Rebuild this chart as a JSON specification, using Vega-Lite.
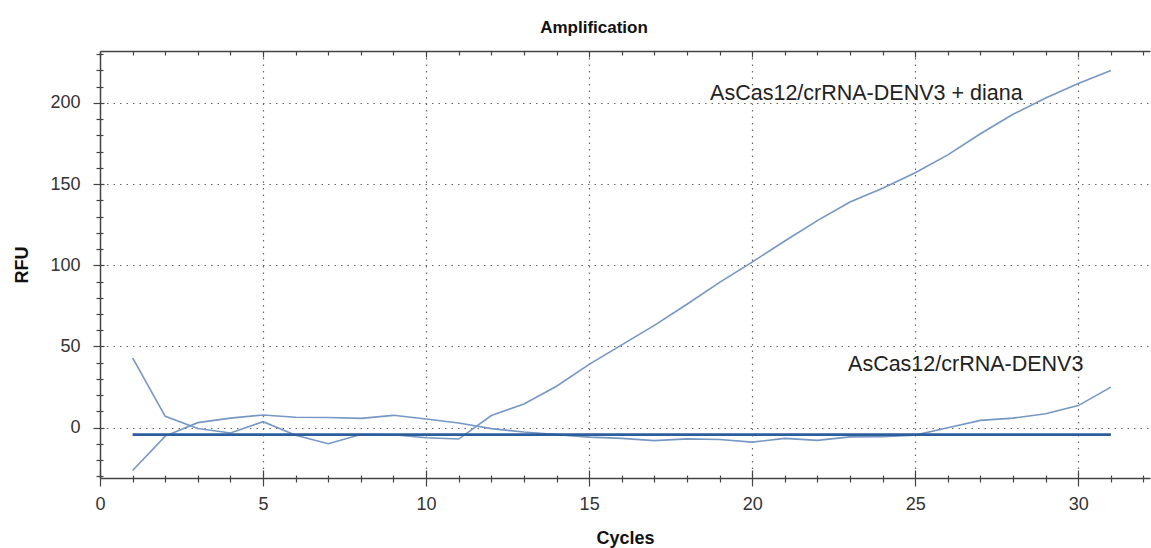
{
  "$schema": "https://vega.github.io/schema/vega-lite/v6.json",
  "width": 1050,
  "height": 427,
  "autosize": "none",
  "padding": {"left": 100, "top": 51, "right": 1, "bottom": 70},
  "background": "white",
  "title": {
    "text": "Amplification",
    "font": "Liberation Sans",
    "fontSize": 17,
    "fontWeight": "bold",
    "color": "#111111",
    "anchor": "middle",
    "dx": -31,
    "offset": 8
  },
  "datasets": {
    "curves": [
      {"cycle": 1, "rfu": 43, "series": "AsCas12/crRNA-DENV3 + diana"},
      {"cycle": 2, "rfu": 7, "series": "AsCas12/crRNA-DENV3 + diana"},
      {"cycle": 3, "rfu": -0.5, "series": "AsCas12/crRNA-DENV3 + diana"},
      {"cycle": 4, "rfu": -3.3, "series": "AsCas12/crRNA-DENV3 + diana"},
      {"cycle": 5, "rfu": 3.7, "series": "AsCas12/crRNA-DENV3 + diana"},
      {"cycle": 6, "rfu": -4.7, "series": "AsCas12/crRNA-DENV3 + diana"},
      {"cycle": 7, "rfu": -9.9, "series": "AsCas12/crRNA-DENV3 + diana"},
      {"cycle": 8, "rfu": -4.2, "series": "AsCas12/crRNA-DENV3 + diana"},
      {"cycle": 9, "rfu": -4.4, "series": "AsCas12/crRNA-DENV3 + diana"},
      {"cycle": 10, "rfu": -6.2, "series": "AsCas12/crRNA-DENV3 + diana"},
      {"cycle": 11, "rfu": -7, "series": "AsCas12/crRNA-DENV3 + diana"},
      {"cycle": 12, "rfu": 7.5, "series": "AsCas12/crRNA-DENV3 + diana"},
      {"cycle": 13, "rfu": 14.6, "series": "AsCas12/crRNA-DENV3 + diana"},
      {"cycle": 14, "rfu": 25.5, "series": "AsCas12/crRNA-DENV3 + diana"},
      {"cycle": 15, "rfu": 39, "series": "AsCas12/crRNA-DENV3 + diana"},
      {"cycle": 16, "rfu": 51, "series": "AsCas12/crRNA-DENV3 + diana"},
      {"cycle": 17, "rfu": 63, "series": "AsCas12/crRNA-DENV3 + diana"},
      {"cycle": 18, "rfu": 76, "series": "AsCas12/crRNA-DENV3 + diana"},
      {"cycle": 19, "rfu": 89.5, "series": "AsCas12/crRNA-DENV3 + diana"},
      {"cycle": 20, "rfu": 102, "series": "AsCas12/crRNA-DENV3 + diana"},
      {"cycle": 21, "rfu": 115, "series": "AsCas12/crRNA-DENV3 + diana"},
      {"cycle": 22, "rfu": 127.5, "series": "AsCas12/crRNA-DENV3 + diana"},
      {"cycle": 23, "rfu": 139, "series": "AsCas12/crRNA-DENV3 + diana"},
      {"cycle": 24, "rfu": 147.5, "series": "AsCas12/crRNA-DENV3 + diana"},
      {"cycle": 25, "rfu": 157, "series": "AsCas12/crRNA-DENV3 + diana"},
      {"cycle": 26, "rfu": 168, "series": "AsCas12/crRNA-DENV3 + diana"},
      {"cycle": 27, "rfu": 181, "series": "AsCas12/crRNA-DENV3 + diana"},
      {"cycle": 28, "rfu": 193, "series": "AsCas12/crRNA-DENV3 + diana"},
      {"cycle": 29, "rfu": 203, "series": "AsCas12/crRNA-DENV3 + diana"},
      {"cycle": 30, "rfu": 212, "series": "AsCas12/crRNA-DENV3 + diana"},
      {"cycle": 31, "rfu": 220, "series": "AsCas12/crRNA-DENV3 + diana"},
      {"cycle": 1, "rfu": -26.4, "series": "AsCas12/crRNA-DENV3"},
      {"cycle": 2, "rfu": -5.2, "series": "AsCas12/crRNA-DENV3"},
      {"cycle": 3, "rfu": 3.1, "series": "AsCas12/crRNA-DENV3"},
      {"cycle": 4, "rfu": 5.9, "series": "AsCas12/crRNA-DENV3"},
      {"cycle": 5, "rfu": 7.8, "series": "AsCas12/crRNA-DENV3"},
      {"cycle": 6, "rfu": 6.4, "series": "AsCas12/crRNA-DENV3"},
      {"cycle": 7, "rfu": 6.3, "series": "AsCas12/crRNA-DENV3"},
      {"cycle": 8, "rfu": 5.7, "series": "AsCas12/crRNA-DENV3"},
      {"cycle": 9, "rfu": 7.6, "series": "AsCas12/crRNA-DENV3"},
      {"cycle": 10, "rfu": 5.3, "series": "AsCas12/crRNA-DENV3"},
      {"cycle": 11, "rfu": 2.9, "series": "AsCas12/crRNA-DENV3"},
      {"cycle": 12, "rfu": -0.6, "series": "AsCas12/crRNA-DENV3"},
      {"cycle": 13, "rfu": -2.7, "series": "AsCas12/crRNA-DENV3"},
      {"cycle": 14, "rfu": -4.3, "series": "AsCas12/crRNA-DENV3"},
      {"cycle": 15, "rfu": -5.8, "series": "AsCas12/crRNA-DENV3"},
      {"cycle": 16, "rfu": -6.6, "series": "AsCas12/crRNA-DENV3"},
      {"cycle": 17, "rfu": -8, "series": "AsCas12/crRNA-DENV3"},
      {"cycle": 18, "rfu": -6.9, "series": "AsCas12/crRNA-DENV3"},
      {"cycle": 19, "rfu": -7.3, "series": "AsCas12/crRNA-DENV3"},
      {"cycle": 20, "rfu": -8.9, "series": "AsCas12/crRNA-DENV3"},
      {"cycle": 21, "rfu": -6.6, "series": "AsCas12/crRNA-DENV3"},
      {"cycle": 22, "rfu": -7.8, "series": "AsCas12/crRNA-DENV3"},
      {"cycle": 23, "rfu": -5.7, "series": "AsCas12/crRNA-DENV3"},
      {"cycle": 24, "rfu": -5.6, "series": "AsCas12/crRNA-DENV3"},
      {"cycle": 25, "rfu": -4.6, "series": "AsCas12/crRNA-DENV3"},
      {"cycle": 26, "rfu": 0, "series": "AsCas12/crRNA-DENV3"},
      {"cycle": 27, "rfu": 4.5, "series": "AsCas12/crRNA-DENV3"},
      {"cycle": 28, "rfu": 5.9, "series": "AsCas12/crRNA-DENV3"},
      {"cycle": 29, "rfu": 8.6, "series": "AsCas12/crRNA-DENV3"},
      {"cycle": 30, "rfu": 13.6, "series": "AsCas12/crRNA-DENV3"},
      {"cycle": 31, "rfu": 25, "series": "AsCas12/crRNA-DENV3"}
    ],
    "threshold": [
      {"cycle": 1, "rfu": -4.3},
      {"cycle": 31, "rfu": -4.3}
    ],
    "labels": [
      {"cycle": 18.71, "rfu": 201.8, "label": "AsCas12/crRNA-DENV3 + diana"},
      {"cycle": 22.94, "rfu": 35.1, "label": "AsCas12/crRNA-DENV3"}
    ]
  },
  "layer": [
    {
      "data": {"name": "curves"},
      "mark": {"type": "line", "color": "#7697c4", "strokeWidth": 1.6},
      "encoding": {
        "x": {
          "field": "cycle", "type": "quantitative",
          "scale": {"domain": [0, 32.2], "nice": false, "zero": false},
          "axis": {
            "orient": "bottom",
            "title": "Cycles",
            "values": [0,1,2,3,4,5,6,7,8,9,10,11,12,13,14,15,16,17,18,19,20,21,22,23,24,25,26,27,28,29,30,31,32],
            "labelExpr": "datum.value % 5 === 0 ? datum.label : ''",
            "tickSize": {"condition": {"test": "datum.value % 5 === 0", "value": 8}, "value": 4},
            "labelPadding": 9,
            "titlePadding": 16,
            "grid": true,
            "gridOpacity": {"condition": {"test": "datum.value % 5 === 0 && datum.value > 0", "value": 1}, "value": 0}
          }
        },
        "y": {
          "field": "rfu", "type": "quantitative",
          "scale": {"domain": [-31, 232], "nice": false, "zero": false},
          "axis": {
            "orient": "left",
            "title": "RFU",
            "values": [-30,-20,-10,0,10,20,30,40,50,60,70,80,90,100,110,120,130,140,150,160,170,180,190,200,210,220,230],
            "labelExpr": "datum.value % 50 === 0 ? datum.label : ''",
            "tickSize": {"condition": {"test": "datum.value % 50 === 0", "value": 7}, "value": 4},
            "labelPadding": 13,
            "titlePadding": 18,
            "grid": true,
            "gridOpacity": {"condition": {"test": "datum.value % 50 === 0", "value": 1}, "value": 0}
          }
        },
        "detail": {"field": "series", "type": "nominal"}
      }
    },
    {
      "data": {"name": "threshold"},
      "mark": {"type": "line", "color": "#2c5d9d", "strokeWidth": 2.6},
      "encoding": {
        "x": {
          "field": "cycle", "type": "quantitative",
          "scale": {"domain": [0, 32.2], "nice": false, "zero": false},
          "axis": {
            "orient": "bottom",
            "title": null,
            "labels": false,
            "domain": false,
            "grid": false,
            "values": [0,1,2,3,4,5,6,7,8,9,10,11,12,13,14,15,16,17,18,19,20,21,22,23,24,25,26,27,28,29,30,31,32],
            "tickSize": {"condition": {"test": "datum.value % 5 === 0", "value": -8}, "value": -3}
          }
        },
        "y": {
          "field": "rfu", "type": "quantitative",
          "scale": {"domain": [-31, 232], "nice": false, "zero": false},
          "axis": {
            "orient": "left",
            "title": null,
            "labels": false,
            "domain": false,
            "grid": false,
            "values": [-30,-20,-10,0,10,20,30,40,50,60,70,80,90,100,110,120,130,140,150,160,170,180,190,200,210,220,230],
            "tickSize": {"condition": {"test": "datum.value % 50 === 0", "value": -4}, "value": -3}
          }
        }
      }
    },
    {
      "data": {"name": "labels"},
      "mark": {"type": "text", "align": "left", "baseline": "alphabetic", "font": "Liberation Sans", "fontSize": 21.5, "color": "#222222"},
      "encoding": {
        "x": {
          "field": "cycle", "type": "quantitative",
          "scale": {"domain": [0, 32.2], "nice": false, "zero": false},
          "axis": {
            "orient": "top",
            "title": null,
            "labels": false,
            "domain": true,
            "grid": false,
            "values": [0,1,2,3,4,5,6,7,8,9,10,11,12,13,14,15,16,17,18,19,20,21,22,23,24,25,26,27,28,29,30,31,32],
            "tickSize": {"condition": {"test": "datum.value % 5 === 0", "value": -6}, "value": -4}
          }
        },
        "y": {
          "field": "rfu", "type": "quantitative",
          "scale": {"domain": [-31, 232], "nice": false, "zero": false},
          "axis": null
        },
        "text": {"field": "label", "type": "nominal"}
      }
    }
  ],
  "resolve": {"axis": {"x": "independent", "y": "independent"}},
  "config": {
    "view": {"stroke": null},
    "axis": {
      "domainColor": "#444444",
      "domainWidth": 1.5,
      "tickColor": "#444444",
      "tickWidth": 1.2,
      "labelColor": "#333333",
      "labelFont": "Liberation Sans",
      "labelFontSize": 18,
      "labelOverlap": false,
      "labelFlush": false,
      "labelBound": false,
      "titleFont": "Liberation Sans",
      "titleFontSize": 18,
      "titleFontWeight": "bold",
      "titleColor": "#111111",
      "gridColor": "#666666",
      "gridDash": [1.5, 5],
      "gridWidth": 1.2
    }
  }
}
